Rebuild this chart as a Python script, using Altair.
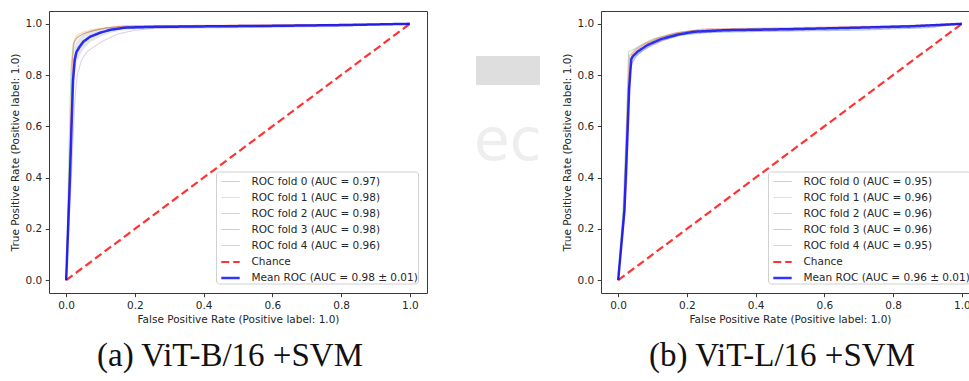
import altair as alt
import pandas as pd

# ---------------- ViT-B/16 + SVM ----------------
b_fold_fpr = [
    [0, 0.012, 0.020, 0.025, 0.035, 0.05, 0.08, 0.12, 0.17, 0.30, 0.60, 1.0],
    [0, 0.010, 0.018, 0.022, 0.030, 0.05, 0.08, 0.12, 0.17, 0.40, 1.0],
    [0, 0.008, 0.014, 0.020, 0.030, 0.05, 0.08, 0.12, 0.20, 0.50, 1.0],
    [0, 0.012, 0.018, 0.024, 0.035, 0.06, 0.10, 0.15, 0.30, 1.0],
    [0, 0.015, 0.025, 0.032, 0.045, 0.06, 0.08, 0.11, 0.15, 0.20, 0.26, 0.50, 0.80, 1.0],
]
b_fold_tpr = [
    [0, 0.50, 0.82, 0.88, 0.91, 0.935, 0.955, 0.972, 0.982, 0.986, 0.99, 1.0],
    [0, 0.45, 0.85, 0.93, 0.955, 0.968, 0.978, 0.986, 0.992, 0.993, 1.0],
    [0, 0.50, 0.82, 0.92, 0.945, 0.962, 0.974, 0.984, 0.99, 0.992, 1.0],
    [0, 0.55, 0.86, 0.93, 0.95, 0.966, 0.98, 0.99, 0.993, 1.0],
    [0, 0.40, 0.70, 0.80, 0.86, 0.89, 0.91, 0.935, 0.96, 0.975, 0.982, 0.985, 0.99, 1.0],
]
b_fold_auc = [0.97, 0.98, 0.98, 0.98, 0.96]
b_mean_auc, b_std_auc = 0.98, 0.01
b_mean_fpr = [0, 0.01, 0.02, 0.025, 0.03, 0.04, 0.05, 0.07, 0.10, 0.13, 0.17, 0.25, 0.40, 0.60, 0.80, 1.0]
b_mean_tpr = [0, 0.36, 0.78, 0.86, 0.89, 0.912, 0.93, 0.95, 0.966, 0.977, 0.985, 0.988, 0.99, 0.992, 0.995, 1.0]
b_std_tpr = [0, 0.08, 0.07, 0.05, 0.04, 0.035, 0.03, 0.022, 0.016, 0.012, 0.008, 0.005, 0.004, 0.004, 0.003, 0]

# ---------------- ViT-L/16 + SVM ----------------
l_fold_fpr = [
    [0, 0.020, 0.030, 0.036, 0.045, 0.06, 0.09, 0.13, 0.18, 0.25, 0.40, 0.70, 0.90, 1.0],
    [0, 0.018, 0.026, 0.030, 0.034, 0.05, 0.08, 0.12, 0.17, 0.25, 0.50, 0.80, 1.0],
    [0, 0.015, 0.025, 0.030, 0.045, 0.07, 0.10, 0.15, 0.20, 0.30, 0.60, 1.0],
    [0, 0.017, 0.027, 0.032, 0.050, 0.08, 0.12, 0.17, 0.25, 0.50, 0.80, 1.0],
    [0, 0.020, 0.030, 0.036, 0.050, 0.07, 0.10, 0.14, 0.19, 0.30, 0.60, 0.90, 1.0],
]
l_fold_tpr = [
    [0, 0.30, 0.70, 0.84, 0.86, 0.885, 0.91, 0.935, 0.955, 0.965, 0.97, 0.975, 0.985, 1.0],
    [0, 0.25, 0.40, 0.75, 0.87, 0.895, 0.922, 0.945, 0.965, 0.978, 0.982, 0.99, 1.0],
    [0, 0.30, 0.65, 0.89, 0.90, 0.92, 0.94, 0.958, 0.97, 0.978, 0.982, 1.0],
    [0, 0.28, 0.70, 0.875, 0.90, 0.925, 0.947, 0.966, 0.98, 0.985, 0.992, 1.0],
    [0, 0.27, 0.60, 0.83, 0.87, 0.895, 0.92, 0.94, 0.96, 0.97, 0.975, 0.985, 1.0],
]
l_fold_auc = [0.95, 0.96, 0.96, 0.96, 0.95]
l_mean_auc, l_std_auc = 0.96, 0.01
l_mean_fpr = [0, 0.018, 0.025, 0.032, 0.038, 0.042, 0.056, 0.085, 0.124, 0.173, 0.221, 0.308, 0.50, 0.70, 0.85, 1.0]
l_mean_tpr = [0, 0.27, 0.50, 0.75, 0.862, 0.872, 0.891, 0.917, 0.94, 0.958, 0.969, 0.975, 0.979, 0.985, 0.99, 1.0]
l_std_tpr = [0, 0.03, 0.06, 0.05, 0.02, 0.015, 0.012, 0.01, 0.008, 0.007, 0.006, 0.005, 0.005, 0.004, 0.003, 0]

tick_values = [0.0, 0.2, 0.4, 0.6, 0.8, 1.0]
fold_colors = ["#1f77b4", "#ff7f0e", "#2ca02c", "#d62728", "#9467bd"]

FONT = "DejaVu Sans"
W, H = 378, 282


def roc_panel(fold_fpr, fold_tpr, fold_auc, mean_fpr, mean_tpr, std_tpr,
              mean_auc, std_auc, caption, extras=None):
    labels = [f"ROC fold {i} (AUC = {a:.2f})" for i, a in enumerate(fold_auc)]
    labels += ["Chance", f"Mean ROC (AUC = {mean_auc:.2f} \u00b1 {std_auc:.2f})"]

    rows = []
    for i, (fx, fy) in enumerate(zip(fold_fpr, fold_tpr)):
        for k, (a, b) in enumerate(zip(fx, fy)):
            rows.append({"series": labels[i], "fpr": a, "tpr": b, "idx": k})
    folds = pd.DataFrame(rows)
    chance = pd.DataFrame({"series": "Chance", "fpr": [0, 1], "tpr": [0, 1], "idx": [0, 1]})
    mean = pd.DataFrame({"series": labels[-1], "fpr": mean_fpr, "tpr": mean_tpr,
                         "idx": range(len(mean_fpr))})
    band = pd.DataFrame({
        "fpr": mean_fpr,
        "lo": [max(m - s, 0) for m, s in zip(mean_tpr, std_tpr)],
        "hi": [min(m + s, 1) for m, s in zip(mean_tpr, std_tpr)],
    })

    xs = alt.Scale(domain=[-0.05, 1.05], nice=False, zero=False)
    ys = alt.Scale(domain=[-0.05, 1.05], nice=False, zero=False)
    x = alt.X("fpr:Q", scale=xs, axis=alt.Axis(
        values=tick_values, format=".1f", labelFlush=False,
        title="False Positive Rate (Positive label: 1.0)"))
    y = alt.Y("tpr:Q", scale=ys, axis=alt.Axis(
        values=tick_values, format=".1f",
        title="True Positive Rate (Positive label: 1.0)"))

    legend = alt.Legend(
        orient="none", legendX=167, legendY=160.5, title=None,
        symbolType="stroke", symbolSize=340, symbolOffset=4,
        labelFont=FONT, labelFontSize=10.5,
        labelColor="#262626", labelOffset=10.5, labelLimit=400,
        fillColor="rgba(255,255,255,0.85)", strokeColor="#d0d0d0",
        cornerRadius=3, padding=0, rowPadding=0)
    enc = dict(
        color=alt.Color("series:N", legend=legend, scale=alt.Scale(
            type="ordinal", domain=labels,
            range=fold_colors + ["#ff0000", "#0000ff"])),
        strokeDash=alt.StrokeDash("series:N", legend=legend, scale=alt.Scale(
            type="ordinal", domain=labels, range=[[1, 0]] * 5 + [[8, 4], [1, 0]])),
        strokeWidth=alt.StrokeWidth("series:N", legend=legend, scale=alt.Scale(
            type="ordinal", domain=labels, range=[1.1] * 5 + [2.2, 2.5])),
        opacity=alt.Opacity("series:N", legend=legend, scale=alt.Scale(
            type="ordinal", domain=labels, range=[0.3] * 5 + [0.8, 0.8])),
        order=alt.Order("idx:Q"),
    )

    band_layer = alt.Chart(band).mark_area(color="#808080", opacity=0.2).encode(
        x=x, y="lo:Q", y2="hi:Q")
    fold_layer = alt.Chart(folds).mark_line().encode(x=x, y=y, **enc)
    chance_layer = alt.Chart(chance).mark_line().encode(x=x, y=y, **enc)
    mean_layer = alt.Chart(mean).mark_line().encode(x=x, y=y, **enc)

    cap = alt.Chart(pd.DataFrame({"t": [caption]})).mark_text(
        font="Liberation Serif", fontSize=33, align="center",
        baseline="alphabetic", color="#111111").encode(
        x=alt.value(181), y=alt.value(355), text="t:N")

    layers = [band_layer, fold_layer, chance_layer, mean_layer, cap]
    if extras:
        layers += extras
    return alt.layer(*layers).properties(width=W, height=H)


# faint fragment of a neighbouring graphic between the two panels
frag_bar = alt.Chart(pd.DataFrame({"k": [0]})).mark_rect(color="#dedede").encode(
    x=alt.value(-125), x2=alt.value(-61), y=alt.value(45), y2=alt.value(74))
frag_text = alt.Chart(pd.DataFrame({"t": ["ec"]})).mark_text(
    font=FONT, fontSize=58, align="left", baseline="alphabetic",
    color="#eeeeee").encode(x=alt.value(-127), y=alt.value(149), text="t:N")
frag_cut = alt.Chart(pd.DataFrame({"k": [0]})).mark_rect(color="white").encode(
    x=alt.value(-61), x2=alt.value(-44), y=alt.value(85), y2=alt.value(165))

left = roc_panel(b_fold_fpr, b_fold_tpr, b_fold_auc, b_mean_fpr, b_mean_tpr,
                 b_std_tpr, b_mean_auc, b_std_auc, "(a) ViT-B/16 +SVM")
right = roc_panel(l_fold_fpr, l_fold_tpr, l_fold_auc, l_mean_fpr, l_mean_tpr,
                  l_std_tpr, l_mean_auc, l_std_auc, "(b) ViT-L/16 +SVM",
                  extras=[frag_bar, frag_text, frag_cut])

chart = alt.hconcat(left, right, spacing=174, bounds="flush").resolve_scale(
    color="independent", strokeDash="independent",
    strokeWidth="independent", opacity="independent",
).properties(
    padding={"left": 9, "top": 10, "right": -11, "bottom": 0},
    background="white",
).configure_view(
    stroke="#3a3a3a", strokeWidth=1,
).configure_axis(
    grid=False, domain=False, tickColor="#3a3a3a", tickSize=3.7, tickWidth=1,
    labelFont=FONT, labelFontSize=10.5, labelColor="#262626", labelPadding=3.5,
    titleFont=FONT, titleFontSize=10.5, titleFontWeight="normal",
    titleColor="#262626",
).configure_axisX(titlePadding=3.5).configure_axisY(titlePadding=5)

chart.save("out.html", embed_options={"renderer": "svg", "actions": False})
